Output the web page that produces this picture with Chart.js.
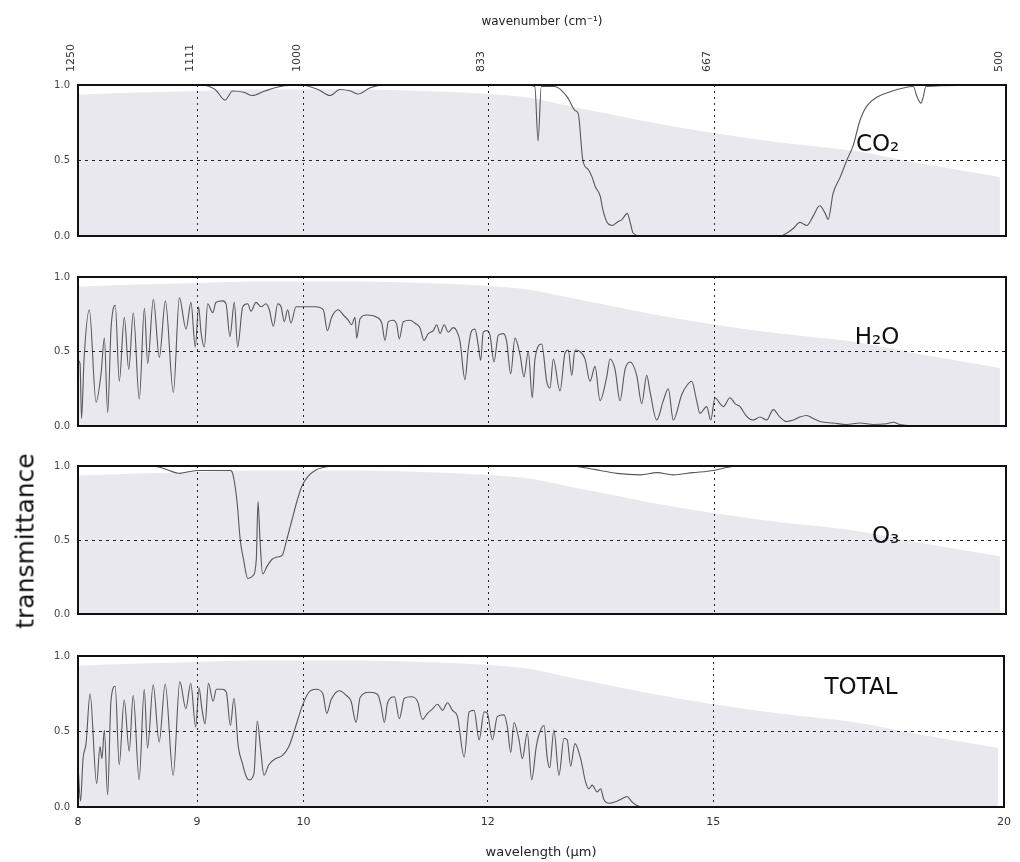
<!DOCTYPE html>
<html>
<head>
<meta charset="utf-8">
<title>transmittance</title>
<script src="https://cdn.jsdelivr.net/npm/chart.js@4.4.0/dist/chart.umd.min.js"></script>
<style>
  html, body { margin: 0; padding: 0; background: #fff; }
  #wrap { position: relative; width: 1020px; height: 862px; overflow: hidden; }
  .panel { position: absolute; left: 0; width: 1020px; }
  #ylab {
    position: absolute; left: 25px; top: 541px;
    transform: translate(-50%, -50%) rotate(-90deg);
    font: 25px "DejaVu Sans", sans-serif; color: #111; white-space: nowrap;
  }
</style>
</head>
<body>
<div id="wrap">
  <div class="panel" style="top:0px"><canvas id="p0" width="1020" height="250"></canvas></div>
  <div class="panel" style="top:263px"><canvas id="p1" width="1020" height="177"></canvas></div>
  <div class="panel" style="top:452px"><canvas id="p2" width="1020" height="176"></canvas></div>
  <div class="panel" style="top:642px"><canvas id="p3" width="1020" height="220"></canvas></div>
  <div id="ylab">transmittance</div>
</div>
<script>
// trục x: bước sóng (µm), trục trên: số sóng (cm-1)
var xTicks = [8, 9, 10, 12, 15, 20];
var xTickLabels = ['8', '9', '10', '12', '15', '20'];
var waveNumLabels = ['1250', '1111', '1000', '833', '667', '500'];
var yTicks = [0, 0.5, 1];

// tên các panel và vị trí nhãn
var panelNames = ['CO₂', 'H₂O', 'O₃', 'TOTAL'];
var labelX = 18.0;
var labelY = [0.60, 0.59, 0.52, 0.79];

// vùng xám (phổ vật đen)
var shadeWl = [8.00, 8.50, 9.02, 9.50, 9.96, 10.50, 11.00, 11.50, 12.00, 12.50, 13.00, 13.50, 14.00, 15.00, 16.00, 17.20, 18.40, 19.88];
var shadeT  = [0.935, 0.95, 0.96, 0.97, 0.97, 0.97, 0.965, 0.955, 0.94, 0.915, 0.86, 0.81, 0.76, 0.68, 0.62, 0.565, 0.48, 0.39];

// CO2
var co2Wl = [8.00, 9.02, 9.16, 9.25, 9.32, 9.43, 9.50, 9.62, 9.77, 9.96,
  10.14, 10.26, 10.36, 10.47, 10.55, 10.67, 10.83, 12.40, 12.56, 12.60,
  12.64, 12.81, 12.97, 13.07, 13.11, 13.17, 13.24, 13.29, 13.33, 13.40,
  13.43, 13.49, 13.56, 13.62, 13.69, 13.76, 13.80, 13.84, 13.94, 16.00,
  16.11, 16.21, 16.32, 16.43, 16.53, 16.64, 16.73, 16.78, 16.86, 16.98,
  17.09, 17.20, 17.31, 17.43, 17.61, 17.84, 18.07, 18.25, 18.32, 18.39,
  18.43, 18.48, 20.00];
var co2T = [1.00, 1.00, 0.97, 0.90, 0.96, 0.95, 0.93, 0.96, 0.99, 1.00,
  0.97, 0.93, 0.97, 0.96, 0.94, 0.98, 1.00, 1.00, 0.99, 0.63,
  0.99, 0.99, 0.92, 0.83, 0.81, 0.50, 0.44, 0.39, 0.33, 0.26,
  0.18, 0.09, 0.07, 0.09, 0.11, 0.15, 0.09, 0.02, 0.00, 0.00,
  0.02, 0.05, 0.09, 0.07, 0.13, 0.20, 0.15, 0.11, 0.28, 0.39,
  0.50, 0.60, 0.76, 0.86, 0.92, 0.955, 0.98, 0.99, 0.92, 0.88,
  0.92, 0.99, 1.00];

// H2O
var h2oWl = [8.000, 8.016, 8.028, 8.048, 8.090, 8.144, 8.184, 8.211, 8.238, 8.265,
  8.300, 8.333, 8.374, 8.411, 8.449, 8.499, 8.542, 8.570, 8.618, 8.669,
  8.721, 8.790, 8.842, 8.901, 8.944, 8.982, 9.012, 9.033, 9.063, 9.093,
  9.138, 9.168, 9.229, 9.259, 9.295, 9.335, 9.366, 9.413, 9.459, 9.490,
  9.537, 9.585, 9.632, 9.663, 9.702, 9.744, 9.776, 9.807, 9.840, 9.872,
  9.921, 9.988, 10.109, 10.193, 10.233, 10.277, 10.344, 10.396, 10.447, 10.482,
  10.517, 10.534, 10.569, 10.639, 10.744, 10.798, 10.833, 10.868, 10.922, 10.959,
  10.987, 11.030, 11.103, 11.158, 11.213, 11.258, 11.305, 11.362, 11.400, 11.438,
  11.483, 11.531, 11.588, 11.627, 11.665, 11.723, 11.761, 11.801, 11.839, 11.878,
  11.906, 11.936, 11.977, 12.016, 12.063, 12.115, 12.175, 12.215, 12.264, 12.316,
  12.377, 12.426, 12.479, 12.528, 12.562, 12.645, 12.708, 12.749, 12.791, 12.876,
  12.940, 12.982, 13.026, 13.068, 13.133, 13.198, 13.263, 13.329, 13.395, 13.484,
  13.528, 13.595, 13.662, 13.730, 13.797, 13.889, 13.958, 14.027, 14.073, 14.166,
  14.259, 14.329, 14.400, 14.520, 14.591, 14.664, 14.736, 14.784, 14.883, 14.942,
  15.006, 15.080, 15.129, 15.229, 15.305, 15.380, 15.482, 15.584, 15.687, 15.791,
  15.894, 15.999, 16.105, 16.211, 16.318, 16.427, 16.534, 16.644, 16.864, 17.088,
  17.314, 17.543, 17.777, 17.894, 18.012, 18.312, 20.000];
var h2oT = [0.44, 0.42, 0.05, 0.45, 0.78, 0.16, 0.35, 0.59, 0.09, 0.65,
  0.81, 0.30, 0.73, 0.38, 0.76, 0.18, 0.79, 0.42, 0.85, 0.46,
  0.84, 0.225, 0.86, 0.65, 0.83, 0.53, 0.80, 0.63, 0.53, 0.82,
  0.76, 0.83, 0.84, 0.82, 0.60, 0.83, 0.53, 0.80, 0.82, 0.77,
  0.83, 0.80, 0.82, 0.78, 0.67, 0.82, 0.80, 0.70, 0.78, 0.69,
  0.80, 0.80, 0.80, 0.78, 0.64, 0.73, 0.78, 0.745, 0.71, 0.68,
  0.73, 0.59, 0.72, 0.745, 0.73, 0.69, 0.575, 0.70, 0.71, 0.68,
  0.585, 0.70, 0.71, 0.69, 0.66, 0.575, 0.62, 0.64, 0.68, 0.62,
  0.68, 0.63, 0.66, 0.64, 0.57, 0.31, 0.52, 0.64, 0.65, 0.54,
  0.44, 0.63, 0.64, 0.61, 0.43, 0.61, 0.62, 0.57, 0.35, 0.59,
  0.48, 0.33, 0.50, 0.19, 0.45, 0.55, 0.30, 0.255, 0.45, 0.235,
  0.49, 0.51, 0.34, 0.51, 0.50, 0.45, 0.30, 0.40, 0.17, 0.33,
  0.45, 0.38, 0.17, 0.38, 0.43, 0.34, 0.15, 0.34, 0.23, 0.04,
  0.17, 0.25, 0.04, 0.21, 0.27, 0.30, 0.17, 0.085, 0.13, 0.04,
  0.19, 0.15, 0.13, 0.19, 0.15, 0.13, 0.065, 0.04, 0.06, 0.04,
  0.11, 0.06, 0.03, 0.04, 0.06, 0.07, 0.05, 0.03, 0.02, 0.01,
  0.02, 0.01, 0.015, 0.025, 0.01, 0.00, 0.00];

// O3
var o3Wl = [8.00, 8.59, 8.68, 8.85, 8.91, 9.02, 9.30, 9.32, 9.36, 9.39,
  9.42, 9.46, 9.51, 9.54, 9.556, 9.575, 9.60, 9.64, 9.69, 9.74,
  9.79, 9.83, 9.88, 9.93, 9.98, 10.04, 10.11, 10.19, 10.31, 13.00,
  13.17, 13.40, 13.62, 13.94, 14.17, 14.40, 14.68, 14.98, 15.18, 15.38,
  20.00];
var o3T = [1.00, 1.00, 0.99, 0.95, 0.96, 0.97, 0.97, 0.95, 0.76, 0.50,
  0.37, 0.24, 0.26, 0.37, 0.76, 0.50, 0.27, 0.32, 0.37, 0.385,
  0.40, 0.50, 0.63, 0.76, 0.865, 0.93, 0.97, 0.99, 1.00, 1.00,
  0.99, 0.97, 0.95, 0.94, 0.955, 0.94, 0.955, 0.97, 0.99, 1.00,
  1.00];

// TOTAL
var totWl = [8.000, 8.020, 8.040, 8.064, 8.096, 8.149, 8.176, 8.192, 8.211, 8.238,
  8.265, 8.300, 8.333, 8.374, 8.416, 8.449, 8.499, 8.542, 8.570, 8.618,
  8.669, 8.721, 8.790, 8.848, 8.901, 8.944, 8.988, 9.018, 9.042, 9.072,
  9.102, 9.144, 9.174, 9.229, 9.265, 9.302, 9.335, 9.375, 9.413, 9.450,
  9.474, 9.521, 9.553, 9.585, 9.616, 9.663, 9.727, 9.792, 9.856, 9.921,
  9.988, 10.053, 10.126, 10.193, 10.233, 10.277, 10.362, 10.431, 10.482, 10.534,
  10.576, 10.673, 10.761, 10.798, 10.833, 10.868, 10.941, 10.995, 11.049, 11.122,
  11.194, 11.250, 11.305, 11.362, 11.418, 11.475, 11.531, 11.588, 11.645, 11.723,
  11.781, 11.839, 11.898, 11.957, 11.996, 12.055, 12.115, 12.195, 12.235, 12.276,
  12.316, 12.377, 12.418, 12.479, 12.533, 12.590, 12.624, 12.687, 12.728, 12.758,
  12.812, 12.876, 12.940, 12.982, 13.026, 13.081, 13.155, 13.220, 13.263, 13.306,
  13.372, 13.417, 13.461, 13.528, 13.618, 13.685, 13.774, 13.838, 13.889, 14.004,
  20.000];
var totT = [0.28, 0.04, 0.32, 0.42, 0.75, 0.155, 0.40, 0.32, 0.51, 0.08,
  0.70, 0.80, 0.28, 0.71, 0.37, 0.74, 0.18, 0.78, 0.39, 0.81,
  0.43, 0.815, 0.21, 0.83, 0.65, 0.82, 0.53, 0.79, 0.66, 0.55,
  0.82, 0.70, 0.78, 0.78, 0.76, 0.54, 0.72, 0.40, 0.29, 0.20,
  0.18, 0.22, 0.57, 0.38, 0.21, 0.28, 0.32, 0.34, 0.40, 0.53,
  0.67, 0.76, 0.78, 0.75, 0.62, 0.71, 0.77, 0.74, 0.70, 0.56,
  0.725, 0.76, 0.745, 0.67, 0.56, 0.69, 0.73, 0.585, 0.72, 0.73,
  0.70, 0.58, 0.62, 0.65, 0.68, 0.64, 0.69, 0.64, 0.60, 0.33,
  0.63, 0.64, 0.445, 0.63, 0.62, 0.445, 0.60, 0.61, 0.53, 0.36,
  0.56, 0.445, 0.32, 0.49, 0.18, 0.40, 0.48, 0.54, 0.32, 0.26,
  0.51, 0.21, 0.455, 0.445, 0.27, 0.42, 0.32, 0.165, 0.12, 0.145,
  0.10, 0.12, 0.05, 0.025, 0.035, 0.05, 0.07, 0.035, 0.015, 0.00,
  0.00];

Chart.defaults.font.family = '"DejaVu Sans", sans-serif';

function toPoints(xs, ys) {
  return xs.map(function (x, i) { return { x: x, y: ys[i] }; });
}

// khung đen quanh vùng vẽ
var framePlugin = {
  id: 'frame',
  afterDraw: function (chart) {
    var a = chart.chartArea, ctx = chart.ctx;
    ctx.save();
    ctx.strokeStyle = '#111';
    ctx.lineWidth = 2;
    ctx.strokeRect(a.left, a.top, a.right - a.left, a.bottom - a.top);
    ctx.restore();
  }
};

// nhãn tên khí trong panel
var labelPlugin = {
  id: 'panelLabel',
  afterDraw: function (chart, args, opts) {
    var ctx = chart.ctx;
    ctx.save();
    ctx.font = '23px "DejaVu Sans", sans-serif';
    ctx.fillStyle = '#111';
    ctx.textAlign = 'right';
    ctx.textBaseline = 'middle';
    ctx.fillText(opts.text, chart.scales.x.getPixelForValue(opts.x), chart.scales.y.getPixelForValue(opts.y));
    ctx.restore();
  }
};

function makePanel(canvasId, idx, wl, tr) {
  var first = idx === 0, last = idx === 3;
  var scales = {
    x: {
      type: 'logarithmic', min: 8, max: 20, position: 'bottom',
      afterBuildTicks: function (ax) { ax.ticks = xTicks.map(function (v) { return { value: v }; }); },
      ticks: {
        display: last, autoSkip: false, maxRotation: 0, padding: 9, color: '#333',
        font: { size: 11 },
        callback: function (v, i) { return xTickLabels[i]; }
      },
      grid: { color: '#222', lineWidth: 1, drawTicks: false, z: 1 },
      border: { display: false, dash: [2, 4] },
      title: { display: last, text: 'wavelength (μm)', color: '#222', font: { size: 13 }, padding: { top: 0, bottom: 2 } },
      afterFit: function (ax) { ax.height = last ? 55 : 0; }
    },
    y: {
      min: 0, max: 1,
      afterBuildTicks: function (ax) { ax.ticks = yTicks.map(function (v) { return { value: v }; }); },
      ticks: {
        padding: 8, color: '#444', font: { size: 10 },
        callback: function (v) { return v.toFixed(1); }
      },
      grid: { color: '#222', lineWidth: 1, drawTicks: false, z: 1 },
      border: { display: false, dash: [3, 4] },
      afterFit: function (ax) { ax.width = 78; }
    }
  };
  if (first) {
    scales.xTop = {
      type: 'logarithmic', min: 8, max: 20, position: 'top',
      afterBuildTicks: function (ax) { ax.ticks = xTicks.map(function (v) { return { value: v }; }); },
      ticks: {
        autoSkip: false, minRotation: 90, maxRotation: 90, padding: 13, labelOffset: 6, color: '#333',
        font: { size: 11 },
        callback: function (v, i) { return waveNumLabels[i]; }
      },
      grid: { drawOnChartArea: false, drawTicks: false },
      border: { display: false },
      title: { display: true, text: 'wavenumber (cm⁻¹)', color: '#222', font: { size: 12 }, padding: { top: 15, bottom: 0 } },
      afterFit: function (ax) { ax.height = 85; }
    };
  }
  var pad = first ? { top: 0, bottom: 9, left: 0, right: 14 }
          : last ? { top: 10, bottom: 0, left: 0, right: 14 }
          : { top: 10, bottom: 10, left: 0, right: 14 };

  new Chart(document.getElementById(canvasId), {
    type: 'line',
    data: {
      datasets: [
        { data: toPoints(wl, tr), borderColor: '#585858', borderWidth: 1.1, pointRadius: 0, fill: false, cubicInterpolationMode: 'monotone', order: 0 },
        { data: toPoints(shadeWl, shadeT), borderColor: 'rgba(0,0,0,0)', borderWidth: 1, backgroundColor: '#e8e8ee', pointRadius: 0, fill: 'origin', cubicInterpolationMode: 'monotone', order: 1 }
      ]
    },
    options: {
      responsive: false,
      animation: false,
      events: [],
      layout: { padding: pad },
      scales: scales,
      plugins: {
        legend: { display: false },
        tooltip: { enabled: false },
        panelLabel: { text: panelNames[idx], x: labelX, y: labelY[idx] }
      }
    },
    plugins: [framePlugin, labelPlugin]
  });
}

makePanel('p0', 0, co2Wl, co2T);
makePanel('p1', 1, h2oWl, h2oT);
makePanel('p2', 2, o3Wl, o3T);
makePanel('p3', 3, totWl, totT);
</script>
</body>
</html>
